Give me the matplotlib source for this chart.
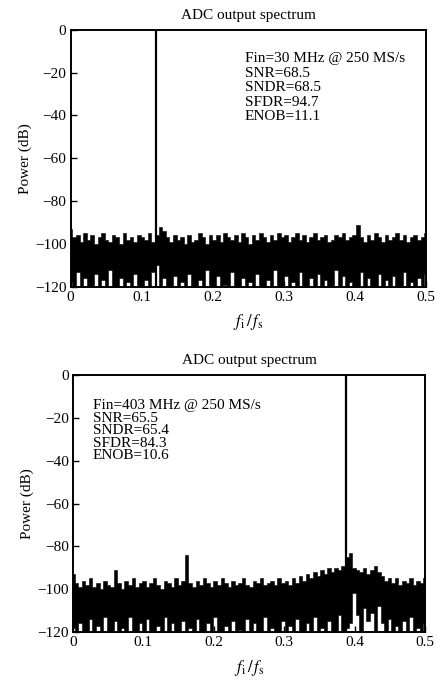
import numpy as np
import matplotlib
matplotlib.use('Agg')
import matplotlib.pyplot as plt

plt.rcParams['font.family'] = ['Liberation Serif', 'DejaVu Serif']
plt.rcParams['mathtext.fontset'] = 'stix'
plt.rcParams['font.size'] = 11

# ---- data (dB, one value per bin, f/fs = 0 .. 0.5) ----
# upper edge of the noise floor (column max) and lower edge (column min)
top_hi = [-93, -97, -96, -99, -95, -98, -96, -100, -97, -95,
          -98, -99, -96, -97, -100, -95, -98, -97, -99, -96,
          -97, -98, -95, -99, -96, -92, -94, -97, -99, -96,
          -98, -97, -100, -96, -99, -98, -95, -97, -100, -96,
          -98, -96, -99, -95, -97, -98, -96, -99, -95, -97,
          -100, -96, -98, -95, -97, -99, -96, -98, -95, -97,
          -96, -99, -97, -95, -98, -96, -99, -97, -95, -98,
          -97, -96, -99, -98, -96, -97, -95, -98, -97, -96,
          -91, -97, -99, -96, -98, -95, -97, -99, -96, -98,
          -97, -95, -98, -96, -99, -97, -96, -98, -97, -95]
top_lo = [-118, -120, -113, -120, -116, -120, -120, -114, -120, -117,
          -120, -112, -120, -120, -116, -120, -118, -120, -114, -120,
          -120, -117, -120, -113, -110, -120, -116, -120, -120, -115,
          -120, -118, -120, -114, -120, -120, -117, -120, -112, -120,
          -120, -115, -120, -119, -120, -113, -120, -120, -116, -120,
          -118, -120, -114, -120, -120, -117, -120, -112, -120, -120,
          -115, -120, -118, -120, -113, -120, -120, -116, -120, -114,
          -120, -117, -120, -120, -112, -120, -115, -120, -118, -120,
          -120, -113, -120, -116, -120, -120, -114, -120, -117, -120,
          -115, -120, -120, -113, -120, -118, -120, -116, -120, -114]

bot_hi = [-93, -97, -99, -96, -98, -95, -99, -97, -100, -96,
          -98, -99, -91, -97, -100, -96, -98, -95, -99, -97,
          -96, -99, -97, -95, -98, -100, -96, -97, -99, -95,
          -98, -96, -84, -97, -99, -96, -98, -95, -97, -99,
          -96, -98, -95, -97, -99, -96, -98, -97, -95, -98,
          -99, -96, -97, -95, -98, -97, -96, -98, -95, -97,
          -96, -98, -95, -97, -94, -96, -93, -95, -92, -94,
          -91, -93, -90, -92, -90, -91, -89, -85, -83, -90,
          -91, -92, -90, -93, -91, -89, -92, -94, -96, -95,
          -97, -95, -98, -96, -97, -95, -98, -96, -97, -95]
bot_lo = [-118, -120, -116, -120, -120, -114, -120, -117, -120, -113,
          -120, -120, -115, -120, -118, -120, -113, -120, -120, -116,
          -120, -114, -120, -120, -117, -120, -113, -120, -116, -120,
          -120, -115, -120, -118, -120, -114, -120, -120, -116, -120,
          -113, -120, -120, -117, -120, -115, -120, -119, -120, -114,
          -120, -116, -120, -120, -113, -120, -118, -120, -120, -115,
          -120, -117, -120, -114, -120, -120, -116, -120, -113, -120,
          -118, -120, -115, -120, -120, -112, -120, -118, -116, -102,
          -112, -120, -109, -115, -111, -120, -108, -116, -120, -114,
          -120, -117, -120, -115, -120, -113, -120, -118, -120, -116]

# fundamental tone (normalised frequency, power dB)
top_sig = (0.12, 0)
bot_sig = (0.388, 0)

top_text = 'Fin=30 MHz @ 250 MS/s\nSNR=68.5\nSNDR=68.5\nSFDR=94.7\nENOB=11.1'
bot_text = 'Fin=403 MHz @ 250 MS/s\nSNR=65.5\nSNDR=65.4\nSFDR=84.3\nENOB=10.6'

yticks = [0, -20, -40, -60, -80, -100, -120]
xticks = [0, 0.1, 0.2, 0.3, 0.4, 0.5]
xtick_labels = ['0', '0.1', '0.2', '0.3', '0.4', '0.5']

fig = plt.figure(figsize=(4.47, 6.86), dpi=100)


def draw_spectrum(ax, hi, lo, sig, text, tx, ty, lsp):
    f = np.linspace(0, 0.5, len(hi))
    ax.fill_between(f, lo, hi, step='mid', color='k', lw=0.4)
    ax.vlines(sig[0], -120, sig[1], color='k', lw=1.6)
    ax.set_xlim(0, 0.5)
    ax.set_ylim(-120, 0)
    ax.set_xticks(xticks)
    ax.set_xticklabels(xtick_labels)
    ax.set_yticks(yticks)
    ax.tick_params(direction='in', length=4, width=1, pad=3)
    for s in ax.spines.values():
        s.set_linewidth(1.4)
    ax.set_title('ADC output spectrum', fontsize=11, pad=8)
    ax.set_ylabel('Power (dB)', labelpad=2)
    ax.set_xlabel(r'$f_{\rm i}\,/\,f_{\rm s}$', labelpad=6, fontsize=12)
    ax.text(tx, ty, text, transform=ax.transAxes, va='top', ha='left',
            linespacing=lsp, fontsize=11)


ax1 = fig.add_axes([0.158, 0.582, 0.795, 0.3746])
draw_spectrum(ax1, top_hi, top_lo, top_sig, top_text, 0.49, 0.913, 1.15)

ax2 = fig.add_axes([0.163, 0.0787, 0.788, 0.3746])
draw_spectrum(ax2, bot_hi, bot_lo, bot_sig, bot_text, 0.057, 0.905, 0.94)

fig.savefig('out.png', dpi=100)
